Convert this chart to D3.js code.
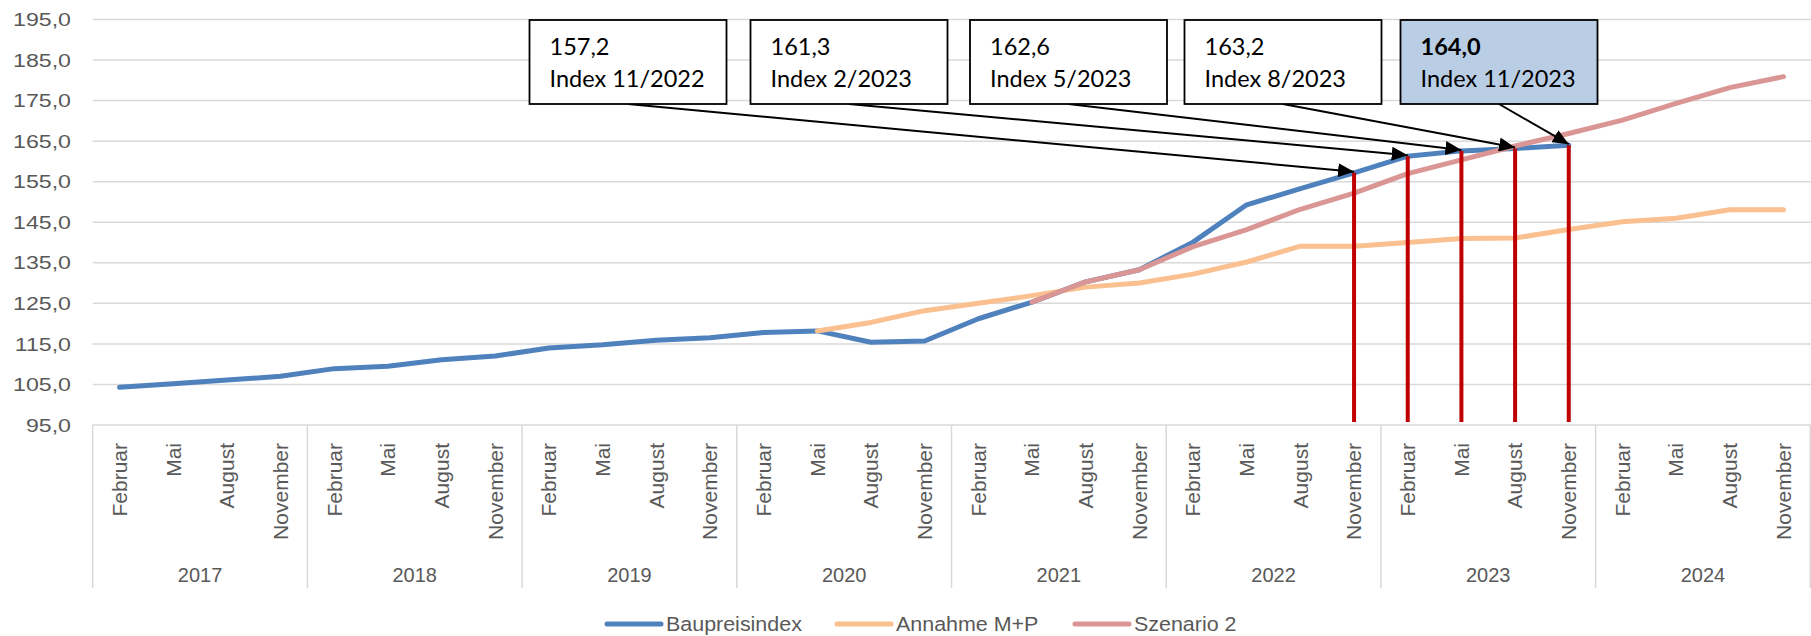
<!DOCTYPE html>
<html><head><meta charset="utf-8">
<script src="https://cdn.jsdelivr.net/npm/d3@7"></script>
<style>html,body{margin:0;padding:0;background:#fff;overflow:hidden}</style>
</head><body>
<svg id="chart" width="1811" height="636"></svg>
<script>
// ---------- data ----------
const years = ["2017", "2018", "2019", "2020", "2021", "2022", "2023", "2024"];
const months = ["Februar", "Mai", "August", "November"];
const yTicks = [95, 105, 115, 125, 135, 145, 155, 165, 175, 185, 195];

// Baupreisindex: Feb 2017 .. Nov 2023
const baupreisindex = [
  104.3, 105.2, 106.1, 107.0,
  108.9, 109.5, 111.1, 112.0,
  114.0, 114.8, 115.9, 116.5,
  117.8, 118.2, 115.4, 115.7,
  121.2, 125.3, 130.3, 133.3,
  140.1, 149.3, 153.3, 157.2,
  161.3, 162.6, 163.2, 164.0
];
// Annahme M+P: from Mai 2020
const annahmeMP = [
  null, null, null, null,
  null, null, null, null,
  null, null, null, null,
  null, 118.2, 120.3, 123.2,
  125.0, 126.9, 129.0, 130.0,
  132.2, 135.2, 139.1, 139.1,
  140.0, 141.0, 141.1, 143.2,
  145.1, 146.0, 148.1, 148.1
];
// Szenario 2: from Mai 2021
const szenario2 = [
  null, null, null, null,
  null, null, null, null,
  null, null, null, null,
  null, null, null, null,
  null, 125.3, 130.3, 133.3,
  139.0, 143.2, 148.2, 152.2,
  157.0, 160.4, 163.8, 166.9,
  170.2, 174.3, 178.2, 180.9
];
const seriesNames = ["Baupreisindex", "Annahme M+P", "Szenario 2"];
const seriesColors = ["#4F81BD", "#FAC090", "#D99694"];

const annotationValues = [157.2, 161.3, 162.6, 163.2, 164.0];
const annotationValueLabels = ["157,2", "161,3", "162,6", "163,2", "164,0"];
const annotationLabels = ["Index 11/2022", "Index 2/2023", "Index 5/2023", "Index 8/2023", "Index 11/2023"];
const annotationYears = ["2022", "2023", "2023", "2023", "2023"];
const annotationMonths = ["November", "Februar", "Mai", "August", "November"];

// ---------- layout ----------
const svg = d3.select("#chart");
const plotLeft = 92.7, plotRight = 1810.3, plotTop = 19.5, plotBottom = 425;
const categories = [];
years.forEach(yr => months.forEach(m => categories.push(yr + "|" + m)));

const x = d3.scaleBand().domain(categories).range([plotLeft, plotRight]).padding(0);
const cx = c => x(c) + x.bandwidth() / 2;
const y = d3.scaleLinear().domain([95, 195]).range([plotBottom, plotTop]);

const grey = "#D9D9D9", textGrey = "#595959";
const axisFont = "'Liberation Sans', Arial, sans-serif";
const boxFont = "Lato, 'Open Sans', sans-serif";

// gridlines
svg.append("g").selectAll("line").data(yTicks).join("line")
  .attr("x1", plotLeft).attr("x2", 1811)
  .attr("y1", d => y(d)).attr("y2", d => y(d))
  .attr("stroke", grey).attr("stroke-width", 1.5);

// y labels
svg.append("g").selectAll("text").data(yTicks).join("text")
  .attr("transform", d => `translate(71,${y(d)}) scale(1.22,1)`)
  .attr("text-anchor", "end").attr("dy", "0.35em")
  .attr("font-family", axisFont).attr("font-size", 19)
  .attr("fill", textGrey)
  .text(d => d.toFixed(1).replace(".", ","));

// year separators
const sepX = years.map(yr => x(yr + "|" + months[0])).concat([plotRight]);
svg.append("g").selectAll("line").data(sepX).join("line")
  .attr("x1", d => d).attr("x2", d => d)
  .attr("y1", plotBottom).attr("y2", 588)
  .attr("stroke", grey).attr("stroke-width", 1.5);

// month labels
svg.append("g").selectAll("text").data(categories).join("text")
  .attr("transform", d => `translate(${cx(d)},443) rotate(-90)`)
  .attr("text-anchor", "end").attr("dy", "0.35em")
  .attr("font-family", axisFont).attr("font-size", 21)
  .attr("fill", textGrey)
  .text(d => d.split("|")[1]);

// year labels
svg.append("g").selectAll("text").data(years).join("text")
  .attr("x", d => x(d + "|" + months[0]) + x.bandwidth() * 2)
  .attr("y", 582)
  .attr("text-anchor", "middle")
  .attr("font-family", axisFont).attr("font-size", 20)
  .attr("fill", textGrey)
  .text(d => d);

// series
const allSeries = [baupreisindex, annahmeMP, szenario2];
const lineGen = d3.line()
  .defined(d => d.v != null)
  .x(d => cx(d.c)).y(d => y(d.v));
allSeries.forEach((s, i) => {
  const pts = s.map((v, k) => ({ c: categories[k], v: v }));
  svg.append("path").datum(pts)
    .attr("d", lineGen)
    .attr("fill", "none")
    .attr("stroke", seriesColors[i])
    .attr("stroke-width", 5)
    .attr("stroke-linecap", "round")
    .attr("stroke-linejoin", "round");
});

// red marker lines
const annCats = annotationYears.map((yr, i) => yr + "|" + annotationMonths[i]);
svg.append("g").selectAll("line").data(annotationValues).join("line")
  .attr("x1", (d, i) => cx(annCats[i])).attr("x2", (d, i) => cx(annCats[i]))
  .attr("y1", d => y(d)).attr("y2", 422)
  .attr("stroke", "#C00000").attr("stroke-width", 4);

// arrow marker
svg.append("defs").append("marker")
  .attr("id", "arrow").attr("markerUnits", "userSpaceOnUse")
  .attr("markerWidth", 17).attr("markerHeight", 14)
  .attr("refX", 16).attr("refY", 7).attr("orient", "auto")
  .append("path").attr("d", "M0,0 L16,7 L0,14 Z").attr("fill", "#000");

// annotation boxes
const boxLeft = [529.5, 750.5, 970, 1184.5, 1400.5];
const boxW = 197, boxTop = 20, boxH = 84;
annotationValues.forEach((v, i) => {
  const bx = boxLeft[i];
  const last = i === annotationValues.length - 1;
  svg.append("line")
    .attr("x1", bx + boxW / 2).attr("y1", boxTop + boxH)
    .attr("x2", cx(annCats[i])).attr("y2", y(v) - 1)
    .attr("stroke", "#000").attr("stroke-width", 2)
    .attr("marker-end", "url(#arrow)");
  svg.append("rect")
    .attr("x", bx).attr("y", boxTop).attr("width", boxW).attr("height", boxH)
    .attr("fill", last ? "#B9CDE5" : "#fff")
    .attr("stroke", "#000").attr("stroke-width", 1.8);
  svg.append("text")
    .attr("x", bx + 20).attr("y", boxTop + 35)
    .attr("font-family", boxFont).attr("font-size", 23.5)
    .attr("font-weight", last ? "bold" : "normal")
    .attr("fill", "#000")
    .text(annotationValueLabels[i]);
  svg.append("text")
    .attr("x", bx + 20).attr("y", boxTop + 67)
    .attr("font-family", boxFont).attr("font-size", 23.5)
    .attr("fill", "#000")
    .text(annotationLabels[i]);
});

// legend
const legendX = [607, 837, 1075];
const legend = svg.append("g");
seriesNames.forEach((n, i) => {
  legend.append("line")
    .attr("x1", legendX[i]).attr("x2", legendX[i] + 54)
    .attr("y1", 624).attr("y2", 624)
    .attr("stroke", seriesColors[i]).attr("stroke-width", 5)
    .attr("stroke-linecap", "round");
  legend.append("text")
    .attr("transform", `translate(${legendX[i] + 59},630.5) scale(1.1,1)`)
    .attr("font-family", axisFont).attr("font-size", 19.5)
    .attr("fill", textGrey)
    .text(n);
});
</script>
</body></html>
